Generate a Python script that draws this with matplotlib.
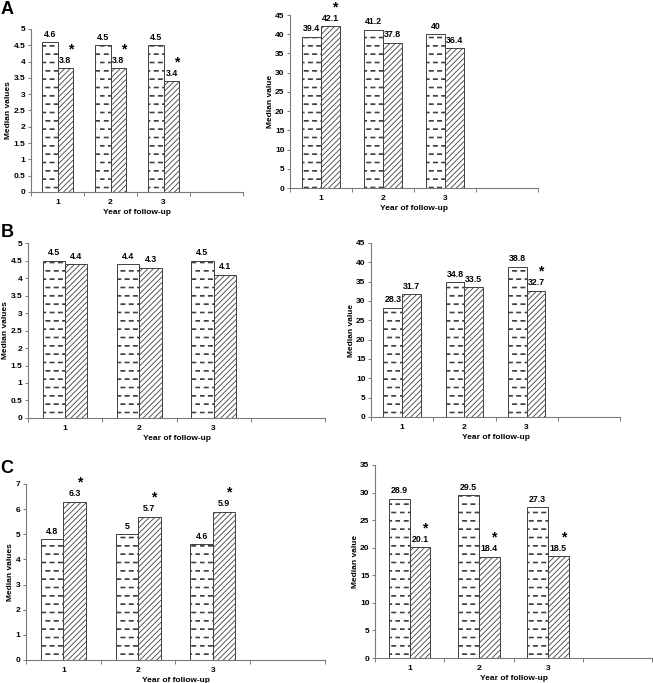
import numpy as np
import matplotlib
matplotlib.use("Agg")
import matplotlib.pyplot as plt
from matplotlib import hatch as mhatch
from matplotlib.path import Path
from matplotlib.ticker import FixedLocator, FormatStrFormatter

# data
years = ["1", "2", "3"]

a_left_s1 = [4.6, 4.5, 4.5]
a_left_s2 = [3.8, 3.8, 3.4]
a_left_star = [True, True, True]

a_right_s1 = [39.4, 41.2, 40]
a_right_s2 = [42.1, 37.8, 36.4]
a_right_star = [True, False, False]

b_left_s1 = [4.5, 4.4, 4.5]
b_left_s2 = [4.4, 4.3, 4.1]
b_left_star = [False, False, False]

b_right_s1 = [28.3, 34.8, 38.8]
b_right_s2 = [31.7, 33.5, 32.7]
b_right_star = [False, False, True]

c_left_s1 = [4.8, 5, 4.6]
c_left_s2 = [6.3, 5.7, 5.9]
c_left_star = [True, True, True]

c_right_s1 = [28.9, 29.5, 27.3]
c_right_s2 = [20.1, 18.4, 18.5]
c_right_star = [True, True, True]


class DashHatch(mhatch.HatchPatternBase):
    """Rows of short horizontal dashes, every other row shifted (brick style)."""

    def __init__(self, hatch, density):
        self.num_rows = int(hatch.count('-') * density)
        self.num_vertices = self.num_rows * self.num_rows * 5

    def set_vertices_and_codes(self, vertices, codes):
        n = self.num_rows
        step = 1.0 / n
        h = 0.004
        k = 0
        for i in range(n):
            y = (i + 0.5) * step
            shift = 0.5 * step if i % 2 else 0.0
            for j in range(n):
                x0 = j * step + shift
                x1 = x0 + 0.5 * step
                vertices[k:k + 5] = [(x0, y - h), (x1, y - h), (x1, y + h), (x0, y + h), (x0, y - h)]
                codes[k:k + 5] = [Path.MOVETO, Path.LINETO, Path.LINETO, Path.LINETO, Path.CLOSEPOLY]
                k += 5


mhatch._hatch_types[:] = [DashHatch if t is mhatch.HorizontalHatch else t for t in mhatch._hatch_types]

plt.rcParams['font.family'] = ['Liberation Sans', 'DejaVu Sans']
plt.rcParams['font.weight'] = 'bold'
plt.rcParams['hatch.linewidth'] = 0.6
plt.rcParams['hatch.color'] = 'black'

fig = plt.figure(figsize=(6.53, 6.83), dpi=100)
fig.patch.set_facecolor("white")

panels = [
    # axes rect, series 1, series 2, stars, y max, y step, y label
    ([0.0475, 0.7189, 0.3247, 0.2387], a_left_s1, a_left_s2, a_left_star, 5, 0.5, "Median values"),
    ([0.4441, 0.7247, 0.3798, 0.2533], a_right_s1, a_right_s2, a_right_star, 45, 5, "Median value"),
    ([0.0429, 0.3880, 0.4548, 0.2562], b_left_s1, b_left_s2, b_left_star, 5, 0.5, "Median values"),
    ([0.5682, 0.3895, 0.3813, 0.2548], b_right_s1, b_right_s2, b_right_star, 45, 5, "Median value"),
    ([0.0398, 0.0337, 0.4579, 0.2577], c_left_s1, c_left_s2, c_left_star, 7, 1, "Median values"),
    ([0.5743, 0.0366, 0.4242, 0.2826], c_right_s1, c_right_s2, c_right_star, 35, 5, "Median value"),
]

width = 0.3
x = np.arange(1, len(years) + 1)

for rect, s1, s2, stars, ymax, ystep, ylabel in panels:
    ax = fig.add_axes(rect)
    ax.bar(x - width / 2, s1, width, facecolor="white", edgecolor="#404040",
           linewidth=0.7, hatch="--")
    ax.bar(x + width / 2, s2, width, facecolor="white", edgecolor="#404040",
           linewidth=0.7, hatch="//////")
    for xi, v in zip(x - width / 2, s1):
        ax.annotate(f"{v:g}", xy=(xi, v), xytext=(0, 2.5), textcoords="offset points",
                    ha="center", va="bottom", fontsize=6.3)
    for xi, v, st in zip(x + width / 2, s2, stars):
        ax.annotate(f"{v:g}", xy=(xi, v), xytext=(0, 2.5), textcoords="offset points",
                    ha="center", va="bottom", fontsize=6.3)
        if st:
            ax.annotate("*", xy=(xi, v), xytext=(3.5, 8.5), textcoords="offset points",
                        ha="center", va="bottom", fontsize=10)

    ax.set_xlim(0.5, 4.5)
    ax.set_ylim(0, ymax)
    ax.set_yticks(np.arange(0, ymax + ystep / 2, ystep))
    ax.yaxis.set_major_formatter(FormatStrFormatter("%g"))
    ax.set_xticks(x)
    ax.set_xticklabels(years)
    ax.xaxis.set_minor_locator(FixedLocator(np.arange(0.5, 4.6, 1.0)))

    for side in ["top", "right"]:
        ax.spines[side].set_visible(False)
    for side in ["left", "bottom"]:
        ax.spines[side].set_color("#7a7a7a")
        ax.spines[side].set_linewidth(0.8)
    ax.tick_params(axis="y", length=2.5, width=0.7, color="#7a7a7a", labelsize=6, pad=1.5)
    ax.tick_params(axis="x", which="major", length=0, labelsize=6, pad=5)
    ax.tick_params(axis="x", which="minor", length=3, width=0.7, color="#7a7a7a")
    ax.set_ylabel(ylabel, fontsize=6, fontweight="bold", labelpad=1)
    ax.set_xlabel("Year of follow-up", fontsize=6, fontweight="bold", labelpad=2)

fig.text(0.001, 0.998, "A", fontsize=13, fontweight="bold", va="top", ha="left")
fig.text(0.001, 0.672, "B", fontsize=13, fontweight="bold", va="top", ha="left")
fig.text(0.001, 0.327, "C", fontsize=13, fontweight="bold", va="top", ha="left")

fig.savefig("out.png", dpi=100, facecolor="white")
